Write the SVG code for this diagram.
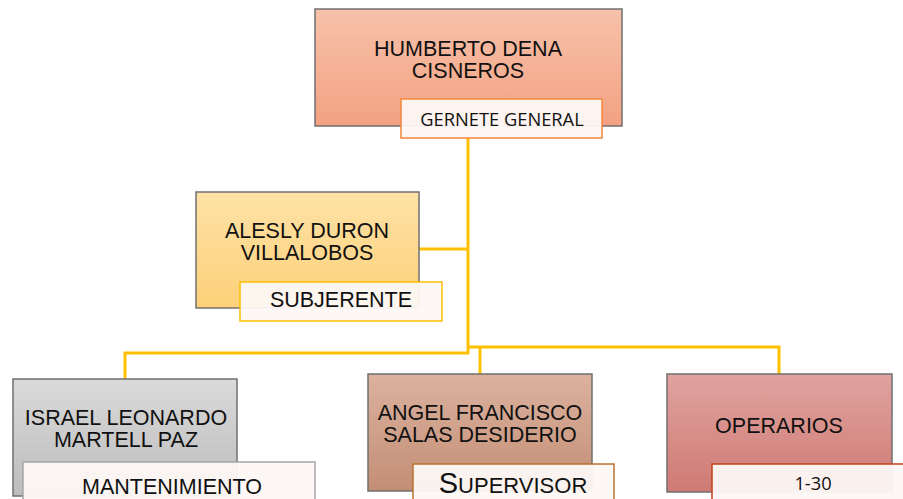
<svg xmlns="http://www.w3.org/2000/svg" width="903" height="499" viewBox="0 0 903 499">
<defs>
<linearGradient id="gTop" x1="0" y1="0" x2="0" y2="1"><stop offset="0" stop-color="#f7c2aa"/><stop offset="1" stop-color="#f3a182"/></linearGradient>
<linearGradient id="gSub" x1="0" y1="0" x2="0" y2="1"><stop offset="0" stop-color="#fee2a6"/><stop offset="1" stop-color="#fdd079"/></linearGradient>
<linearGradient id="gMan" x1="0" y1="0" x2="0" y2="1"><stop offset="0" stop-color="#dadada"/><stop offset="1" stop-color="#bcbcbc"/></linearGradient>
<linearGradient id="gSup" x1="0" y1="0" x2="0" y2="1"><stop offset="0" stop-color="#dbb29f"/><stop offset="1" stop-color="#c48e75"/></linearGradient>
<linearGradient id="gOp" x1="0" y1="0" x2="0" y2="1"><stop offset="0" stop-color="#e0a39f"/><stop offset="1" stop-color="#cf7a74"/></linearGradient>
</defs>
<style>
.box{stroke:#707070;stroke-width:1.5}
.lbl{fill:#fdf8f6;fill-opacity:0.95;stroke-width:1.5}
.name{font-family:"Liberation Sans",Arial,sans-serif;font-size:21.5px;fill:#111;text-anchor:middle}
.role{font-family:"Open Sans","Liberation Sans",sans-serif;font-size:18.3px;fill:#111;text-anchor:middle}
.conn{fill:none;stroke:#ffc000;stroke-width:3}
</style>
<g id="connectors">
<path class="conn" d="M468,138 V353 H125 V379"/>
<path class="conn" d="M419,249 H468"/>
<path class="conn" d="M468,347 H779 V374"/>
<path class="conn" d="M480,347 V374"/>
</g>
<g id="node-gerente">
<rect class="box" x="315" y="9" width="307" height="117" fill="url(#gTop)"/>
<text class="name"><tspan x="468" y="56">HUMBERTO DENA</tspan><tspan x="468" y="78">CISNEROS</tspan></text>
<rect class="lbl" x="401" y="99" width="201" height="39" stroke="#f4873c"/>
<text class="role" x="502" y="126">GERNETE GENERAL</text>
</g>
<g id="node-subgerente">
<rect class="box" x="196" y="192" width="223" height="116" fill="url(#gSub)"/>
<text class="name"><tspan x="307" y="237.5">ALESLY DURON</tspan><tspan x="307" y="260">VILLALOBOS</tspan></text>
<rect class="lbl" x="240" y="282" width="202" height="39" stroke="#fac000"/>
<text class="name" x="341" y="307">SUBJERENTE</text>
</g>
<g id="node-mantenimiento">
<rect class="box" x="13" y="379" width="224" height="117" fill="url(#gMan)"/>
<text class="name"><tspan x="126" y="425">ISRAEL LEONARDO</tspan><tspan x="126" y="447">MARTELL PAZ</tspan></text>
<rect class="lbl" x="23" y="462" width="292" height="45" stroke="#a6a6a6"/>
<text class="name" x="172" y="494">MANTENIMIENTO</text>
</g>
<g id="node-supervisor">
<rect class="box" x="368" y="374" width="224" height="117" fill="url(#gSup)"/>
<text class="name"><tspan x="480" y="420">ANGEL FRANCISCO</tspan><tspan x="480" y="442">SALAS DESIDERIO</tspan></text>
<rect class="lbl" x="413" y="464" width="201" height="45" stroke="#b8732e"/>
<text class="name" x="513" y="493"><tspan font-size="29">S</tspan><tspan font-size="22">UPERVISOR</tspan></text>
</g>
<g id="node-operarios">
<rect class="box" x="667" y="374" width="225" height="118" fill="url(#gOp)"/>
<text class="name" x="779" y="433">OPERARIOS</text>
<rect class="lbl" x="712" y="464" width="200" height="45" stroke="#c3401c"/>
<text class="role" x="813" y="490">1-30</text>
</g>
</svg>
